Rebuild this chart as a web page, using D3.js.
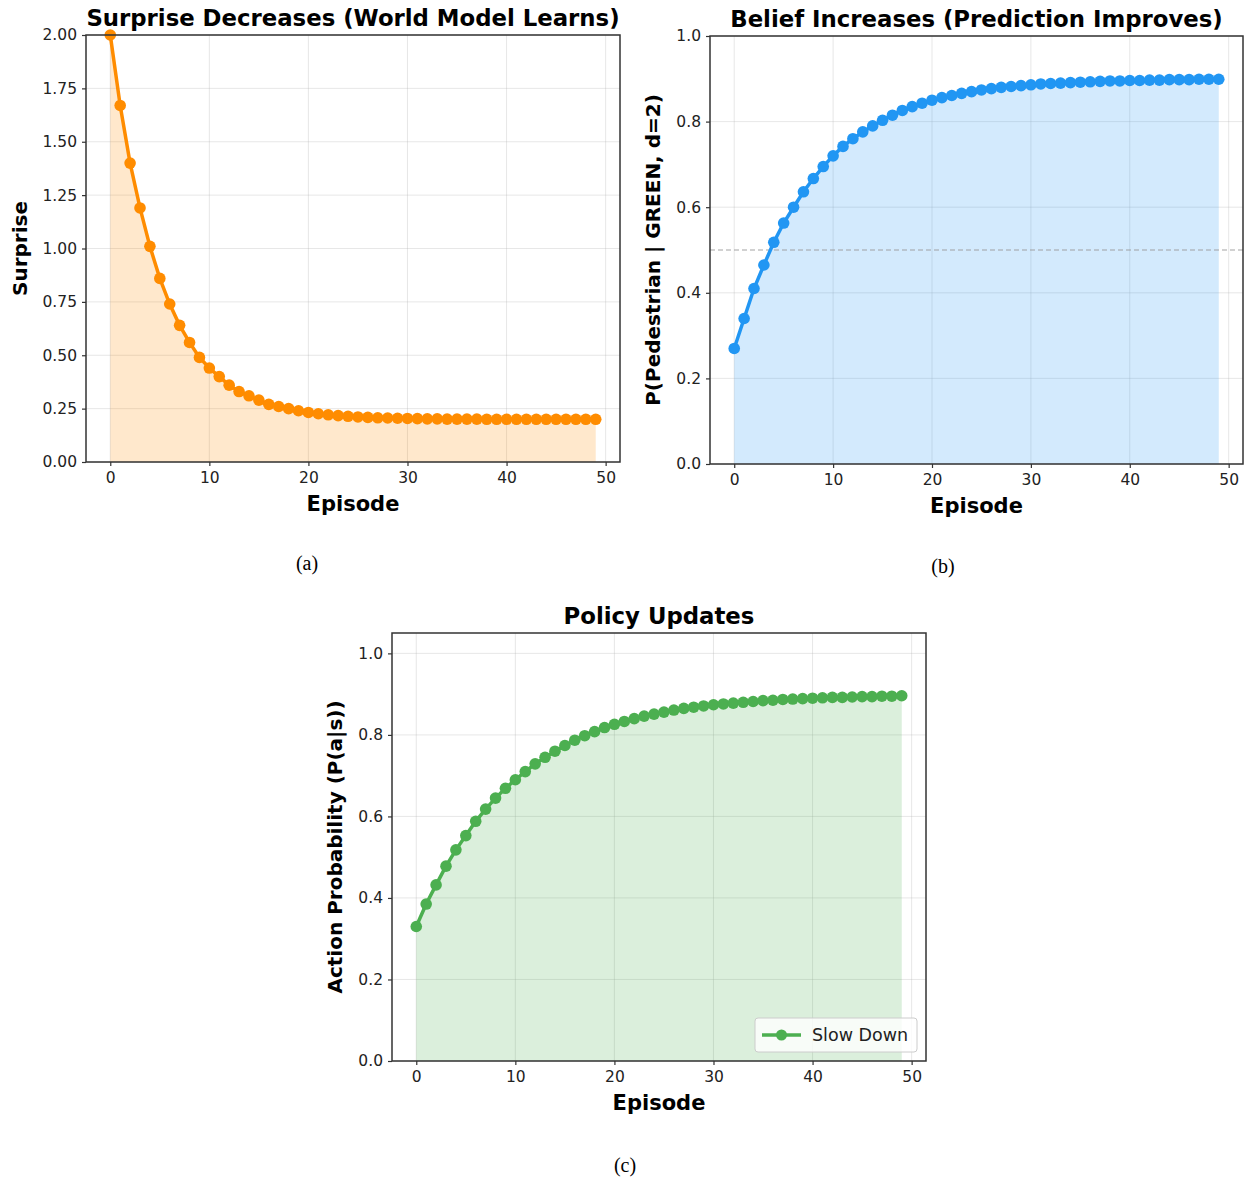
<!DOCTYPE html>
<html>
<head>
<meta charset="utf-8">
<script src="https://cdn.jsdelivr.net/npm/d3@7"></script>
<style>
  body { margin: 0; background: #fff; }
</style>
</head>
<body>
<svg id="svg"></svg>
<script>
// episodes 0..49
const episodes = [0,1,2,3,4,5,6,7,8,9,10,11,12,13,14,15,16,17,18,19,20,21,22,23,24,
  25,26,27,28,29,30,31,32,33,34,35,36,37,38,39,40,41,42,43,44,45,46,47,48,49];

const surprise = [2.00,1.67,1.40,1.19,1.01,0.86,0.74,0.64,0.56,0.49,0.44,0.40,0.36,0.33,0.31,
  0.29,0.27,0.26,0.25,0.24,0.232,0.226,0.221,0.217,0.214,0.211,0.209,0.207,0.206,0.205,
  0.204,0.203,0.202,0.202,0.201,0.201,0.201,0.201,0.200,0.200,0.200,0.200,0.200,0.200,
  0.200,0.200,0.200,0.200,0.200,0.200];

const belief = [0.27,0.34,0.41,0.465,0.518,0.563,0.60,0.636,0.667,0.695,0.72,0.742,0.76,0.776,
  0.79,0.803,0.815,0.826,0.835,0.843,0.85,0.856,0.861,0.866,0.870,0.874,0.877,0.880,0.882,
  0.884,0.886,0.888,0.889,0.890,0.891,0.892,0.893,0.894,0.895,0.895,0.896,0.896,0.897,0.897,
  0.898,0.898,0.898,0.899,0.899,0.899];

const slowDown = [0.33,0.385,0.432,0.478,0.518,0.553,0.588,0.618,0.645,0.669,0.69,0.71,0.729,
  0.745,0.76,0.774,0.787,0.798,0.808,0.818,0.826,0.833,0.84,0.846,0.851,0.856,0.861,0.865,
  0.868,0.871,0.874,0.876,0.878,0.880,0.882,0.884,0.885,0.887,0.888,0.889,0.890,0.891,0.892,
  0.892,0.893,0.894,0.894,0.895,0.895,0.896];

const xTicks = [0,10,20,30,40,50];
const surpriseTicks = [0,0.25,0.5,0.75,1.0,1.25,1.5,1.75,2.0];
const probTicks = [0,0.2,0.4,0.6,0.8,1.0];

const sans = "'DejaVu Sans', sans-serif";
const serif = "'Liberation Serif', 'Times New Roman', serif";

let svg = d3.select("#svg").attr("width", 1245).attr("height", 1181);

function panel(o) {
  let g = svg.append("g").style("font-family", sans);
  let x = d3.scaleLinear().domain([-2.45, 51.45]).range([o.left, o.right]);
  let y = d3.scaleLinear().domain(o.ydomain).range([o.bottom, o.top]);

  // grid
  g.selectAll("line.gx").data(xTicks).enter().append("line")
    .attr("x1", d => x(d)).attr("x2", d => x(d))
    .attr("y1", o.top).attr("y2", o.bottom)
    .attr("stroke", "#b0b0b0").attr("stroke-opacity", 0.3).attr("stroke-width", 1);
  g.selectAll("line.gy").data(o.yticks).enter().append("line")
    .attr("x1", o.left).attr("x2", o.right)
    .attr("y1", d => y(d)).attr("y2", d => y(d))
    .attr("stroke", "#b0b0b0").attr("stroke-opacity", 0.3).attr("stroke-width", 1);

  let pts = episodes.map((e, i) => [e, o.values[i]]);

  // fill under the curve
  g.append("path").datum(pts)
    .attr("d", d3.area().x(d => x(d[0])).y0(y(0)).y1(d => y(d[1])))
    .attr("fill", o.color).attr("fill-opacity", 0.2);

  if (o.refLine !== undefined) {
    g.append("line")
      .attr("x1", o.left).attr("x2", o.right)
      .attr("y1", y(o.refLine)).attr("y2", y(o.refLine))
      .attr("stroke", "#999").attr("stroke-opacity", 0.6)
      .attr("stroke-width", 1.3).attr("stroke-dasharray", "5,3");
  }

  g.append("path").datum(pts)
    .attr("d", d3.line().x(d => x(d[0])).y(d => y(d[1])))
    .attr("fill", "none").attr("stroke", o.color).attr("stroke-width", 3.5);

  g.selectAll("circle").data(pts).enter().append("circle")
    .attr("cx", d => x(d[0])).attr("cy", d => y(d[1]))
    .attr("r", 5.8).attr("fill", o.color);

  // axes
  let xa = g.append("g").attr("transform", `translate(0,${o.bottom})`)
    .call(d3.axisBottom(x).tickValues(xTicks).tickSize(4).tickPadding(6).tickFormat(d3.format("d")));
  let ya = g.append("g").attr("transform", `translate(${o.left},0)`)
    .call(d3.axisLeft(y).tickValues(o.yticks).tickSize(4).tickPadding(5).tickFormat(d3.format(o.yfmt)));
  [xa, ya].forEach(a => {
    a.select(".domain").remove();
    a.selectAll("line").attr("stroke", "#333").attr("stroke-width", 1.2);
    a.selectAll("text").style("font-size", "15.5px").style("font-family", sans).attr("fill", "#222");
  });

  g.append("rect")
    .attr("x", o.left).attr("y", o.top)
    .attr("width", o.right - o.left).attr("height", o.bottom - o.top)
    .attr("fill", "none").attr("stroke", "#333").attr("stroke-width", 1.5);

  g.append("text")
    .attr("x", (o.left + o.right) / 2).attr("y", o.top - 9)
    .attr("text-anchor", "middle").attr("font-weight", "bold").style("font-size", "22.8px")
    .text(o.title);
  g.append("text")
    .attr("x", (o.left + o.right) / 2).attr("y", o.bottom + 49)
    .attr("text-anchor", "middle").attr("font-weight", "bold").style("font-size", "21px")
    .text("Episode");
  g.append("text")
    .attr("transform", `translate(${o.ylabelX},${(o.top + o.bottom) / 2}) rotate(-90)`)
    .attr("text-anchor", "middle").attr("font-weight", "bold").style("font-size", "20px")
    .text(o.ylabel);

  g.append("text")
    .attr("x", o.capX).attr("y", o.capY)
    .attr("text-anchor", "middle").style("font-size", "20px")
    .style("font-family", serif)
    .text(o.caption);

  if (o.legend) {
    let lg = g.append("g").attr("transform", `translate(${o.right - 171},${o.bottom - 43})`);
    lg.append("rect").attr("width", 162).attr("height", 34).attr("rx", 3)
      .attr("fill", "#fff").attr("fill-opacity", 0.8).attr("stroke", "#ccc");
    lg.append("line").attr("x1", 7).attr("x2", 46).attr("y1", 17).attr("y2", 17)
      .attr("stroke", o.color).attr("stroke-width", 3.5);
    lg.append("circle").attr("cx", 26.5).attr("cy", 17).attr("r", 5.5).attr("fill", o.color);
    lg.append("text").attr("x", 57).attr("y", 23).style("font-size", "17.5px").attr("fill", "#222")
      .text(o.legend);
  }
}

panel({
  values: surprise, color: "#FF8C00", ydomain: [0, 2], yticks: surpriseTicks, yfmt: ".2f",
  left: 86, right: 620, top: 35, bottom: 462,
  title: "Surprise Decreases (World Model Learns)", ylabel: "Surprise", ylabelX: 27,
  caption: "(a)", capX: 307, capY: 570
});

panel({
  values: belief, color: "#2196F3", ydomain: [0, 1], yticks: probTicks, yfmt: ".1f",
  left: 710, right: 1243, top: 36, bottom: 464, refLine: 0.5,
  title: "Belief Increases (Prediction Improves)", ylabel: "P(Pedestrian | GREEN, d=2)", ylabelX: 660,
  caption: "(b)", capX: 943, capY: 573
});

panel({
  values: slowDown, color: "#4CAF50", ydomain: [0, 1.05], yticks: probTicks, yfmt: ".1f",
  left: 392, right: 926, top: 633, bottom: 1061,
  title: "Policy Updates", ylabel: "Action Probability (P(a|s))", ylabelX: 342,
  caption: "(c)", capX: 625, capY: 1172, legend: "Slow Down"
});
</script>
</body>
</html>
